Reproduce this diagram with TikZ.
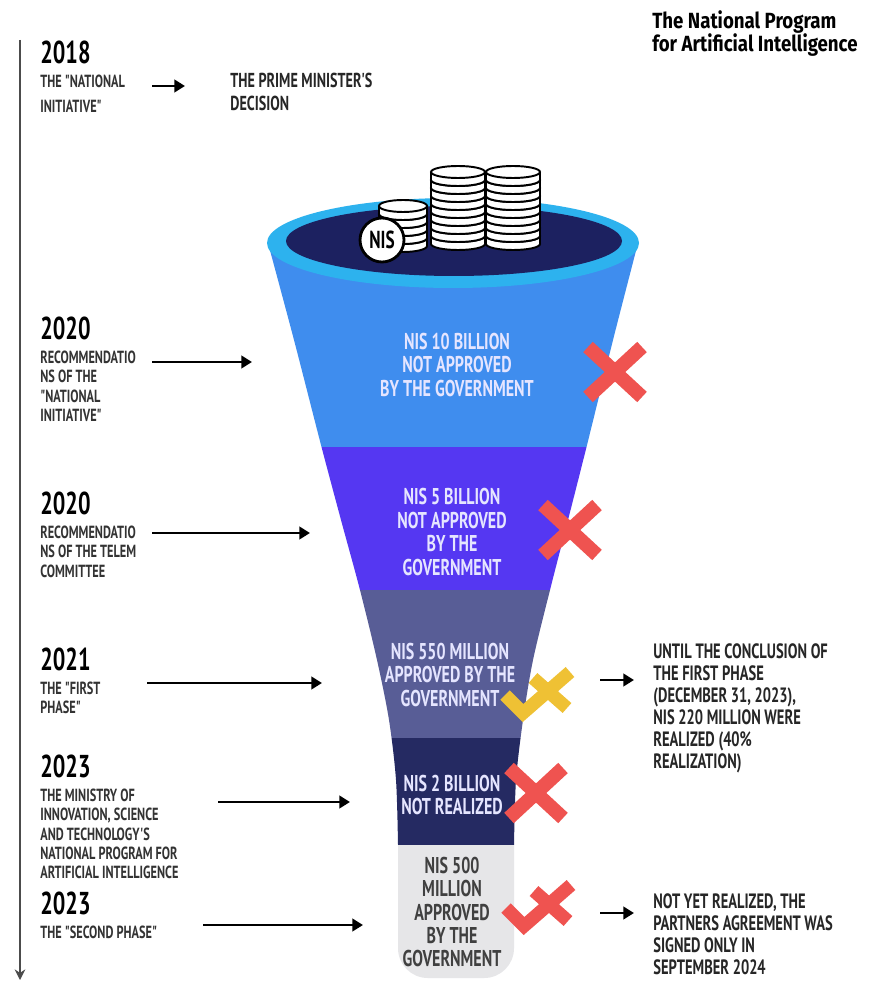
\documentclass[tikz,border=0pt]{standalone}
\usepackage{fontspec}
\usetikzlibrary{positioning,arrows.meta}

\newfontfamily\cond[FakeStretch=0.7]{PT Sans}
\newfontfamily\headfont[FakeStretch=0.85]{Fira Sans}

\definecolor{rimblue}{HTML}{2DB2EE}
\definecolor{hole}{HTML}{1C2160}
\definecolor{lvlone}{HTML}{3F8DEE}
\definecolor{lvltwo}{HTML}{5537F2}
\definecolor{lvlthree}{HTML}{585D96}
\definecolor{lvlfour}{HTML}{252A62}
\definecolor{lvlfive}{HTML}{E6E6E8}
\definecolor{nored}{HTML}{EF5350}
\definecolor{halfyellow}{HTML}{EFC134}

% one stack of coins: centre x, bottom y, number of coins, radius
\newcommand{\coinstack}[4]{%
  \foreach \k in {1,...,#3} {
    \pgfmathsetmacro\cy{#2-(\k-1)*8}
    \filldraw[coin] (#1,\cy) ellipse [x radius=#4, y radius=6];
    \fill[white] (#1-#4,\cy-8) rectangle (#1+#4,\cy);
    \draw[coin] (#1-#4,\cy) -- ++(0,-8) (#1+#4,\cy) -- ++(0,-8);
    \filldraw[coin] (#1,\cy-8) ellipse [x radius=#4, y radius=6];
  }}

\begin{document}
\begin{tikzpicture}[x=0.02cm, y=-0.02cm,
  year/.style={font=\cond\bfseries\fontsize{18}{18}\selectfont, inner sep=0pt, anchor=north west},
  note/.style={font=\cond\bfseries\fontsize{10}{11}\selectfont, text=black!80, align=left, inner sep=0pt},
  side/.style={font=\cond\bfseries\fontsize{11.8}{12.6}\selectfont, text=black!85, align=left, inner sep=0pt, anchor=north west},
  inside/.style={font=\cond\bfseries\fontsize{13}{13.3}\selectfont, text=white!90!blue, align=center, inner sep=0pt},
  arr/.style={-{Triangle[length=6pt,width=7pt]}, line width=1.5pt},
  cross/.style={line width=8pt, nored},
  tick/.style={line width=7.5pt, line join=miter},
  coin/.style={fill=white, draw=black, line width=1.1pt}]

  \useasboundingbox (0,0) rectangle (869,982);
  \fill[white] (0,0) rectangle (869,982);

  % timeline
  \coordinate (t0) at (20,40);
  \coordinate (t1) at (20,980);
  \draw[-{Stealth[length=6pt,width=6pt]}, line width=1.1pt, black!70] (t0) -- (t1);

  \node[font=\headfont\bfseries\fontsize{12.5}{13.5}\selectfont, align=left, inner sep=0pt, anchor=north west]
    (title) at (652,10) {The National Program\\for Artificial Intelligence};

  % funnel body
  \begin{scope}
    \path[clip] plot[smooth] coordinates {(268,243) (294,340) (321,445) (341,520) (360,590) (377,660) (389,720) (396,780) (398,845)}
      [rounded corners=17pt] -- (398,978) -- (514,978) -- (514,900) [sharp corners]
      -- plot[smooth] coordinates {(514,845) (516,780) (523,720) (533,660) (550,590) (568,520) (587,445) (613,340) (638,243)} -- cycle;
    \fill[lvlone] (250,180) rectangle (660,447);
    \fill[lvltwo] (250,447) rectangle (660,590);
    \fill[lvlthree] (250,590) rectangle (660,738);
    \fill[lvlfour] (250,738) rectangle (660,845);
    \fill[lvlfive] (250,845) rectangle (660,990);
  \end{scope}

  % rim and opening
  \fill[rimblue] (453,243) ellipse [x radius=186, y radius=45];
  \fill[hole] (454,241) ellipse [x radius=168, y radius=35];

  % coins
  \coinstack{403}{246}{5}{24}
  \coinstack{458}{244}{9}{27}
  \coinstack{513}{244}{9}{27}
  \node[circle, minimum size=0.88cm, inner sep=0pt, fill=white, draw=black, line width=1.6pt,
    font=\cond\bfseries\fontsize{14}{14}\selectfont] (nis) at (382,240) {NIS};

  % levels
  \node[inside] (s1) at (457,365) {NIS 10 BILLION\\NOT APPROVED\\BY THE GOVERNMENT};
  \node[inside] (s2) at (452,532) {NIS 5 BILLION\\NOT APPROVED\\BY THE\\GOVERNMENT};
  \node[inside] (s3) at (450,675) {NIS 550 MILLION\\APPROVED BY THE\\GOVERNMENT};
  \node[inside] (s4) at (452,795) {NIS 2 BILLION\\NOT REALIZED};
  \node[inside, text=black!75] (s5) at (452,912) {NIS 500\\MILLION\\APPROVED\\BY THE\\GOVERNMENT};

  % marks
  \draw[cross] (615,372) +(-27,-25) -- +(27,25) +(-27,25) -- +(27,-25);
  \draw[cross] (570,530) +(-27,-25) -- +(27,25) +(-27,25) -- +(27,-25);
  \draw[cross] (536,793) +(-27,-25) -- +(27,25) +(-27,25) -- +(27,-25);
  \begin{scope}[shift={(537,693)}]
    \draw[tick, halfyellow] (-32,2) -- (-14,20) -- (33,-21) (-4,-15) -- (30,15);
  \end{scope}
  \begin{scope}[shift={(538,906)}]
    \draw[tick, nored] (-32,2) -- (-14,20) -- (33,-21) (-4,-15) -- (30,15);
  \end{scope}

  % years
  \node[year] (y18) at (40,41) {2018};
  \node[note, below right=0.2cm and 0cm of y18.south west, font=\cond\bfseries\fontsize{10}{14}\selectfont]
    (n18) {THE "NATIONAL\\INITIATIVE"};
  \node[side, font=\cond\bfseries\fontsize{11.5}{12.8}\selectfont] (pm) at (230,73) {THE PRIME MINISTER'S\\DECISION};

  \node[year] (y20a) at (40,317) {2020};
  \node[note, below right=0.2cm and 0cm of y20a.south west] (n20a)
    {RECOMMENDATIO\\NS OF THE\\"NATIONAL\\INITIATIVE"};

  \node[year] (y20b) at (40,492) {2020};
  \node[note, below right=0.2cm and 0cm of y20b.south west] (n20b)
    {RECOMMENDATIO\\NS OF THE TELEM\\COMMITTEE};

  \node[year] (y21) at (40,648) {2021};
  \node[note, below right=0.2cm and 0cm of y21.south west] (n21) {THE "FIRST\\PHASE"};

  \node[year] (y23a) at (40,755) {2023};
  \node[note, below right=0.2cm and 0cm of y23a.south west] (n23a)
    {THE MINISTRY OF\\INNOVATION, SCIENCE\\AND TECHNOLOGY'S\\NATIONAL PROGRAM FOR\\ARTIFICIAL INTELLIGENCE};

  \node[year] (y23b) at (40,892) {2023};
  \node[note, below right=0.2cm and 0cm of y23b.south west] (n23b) {THE "SECOND PHASE"};

  % outcomes
  \node[side] (o21) at (653,643) {UNTIL THE CONCLUSION OF\\THE FIRST PHASE\\(DECEMBER 31, 2023),\\NIS 220 MILLION WERE\\REALIZED (40\%\\REALIZATION)};
  \node[side] (o23) at (653,893) {NOT YET REALIZED, THE\\PARTNERS AGREEMENT WAS\\SIGNED ONLY IN\\SEPTEMBER 2024};

  % arrows
  \coordinate (a18s) at (152,86);   \coordinate (a18e) at (185,86);
  \coordinate (a20as) at (152,362); \coordinate (a20ae) at (252,362);
  \coordinate (a20bs) at (152,533); \coordinate (a20be) at (310,533);
  \coordinate (a21s) at (147,683);  \coordinate (a21e) at (322,683);
  \coordinate (a23as) at (218,802); \coordinate (a23ae) at (350,802);
  \coordinate (a23bs) at (203,925); \coordinate (a23be) at (363,925);
  \coordinate (r21s) at (600,680);  \coordinate (r21e) at (634,680);
  \coordinate (r23s) at (600,913);  \coordinate (r23e) at (634,913);
  \draw[arr] (a18s) -- (a18e);
  \draw[arr] (a20as) -- (a20ae);
  \draw[arr] (a20bs) -- (a20be);
  \draw[arr] (a21s) -- (a21e);
  \draw[arr] (a23as) -- (a23ae);
  \draw[arr] (a23bs) -- (a23be);
  \draw[arr] (r21s) -- (r21e);
  \draw[arr] (r23s) -- (r23e);
\end{tikzpicture}
\end{document}
